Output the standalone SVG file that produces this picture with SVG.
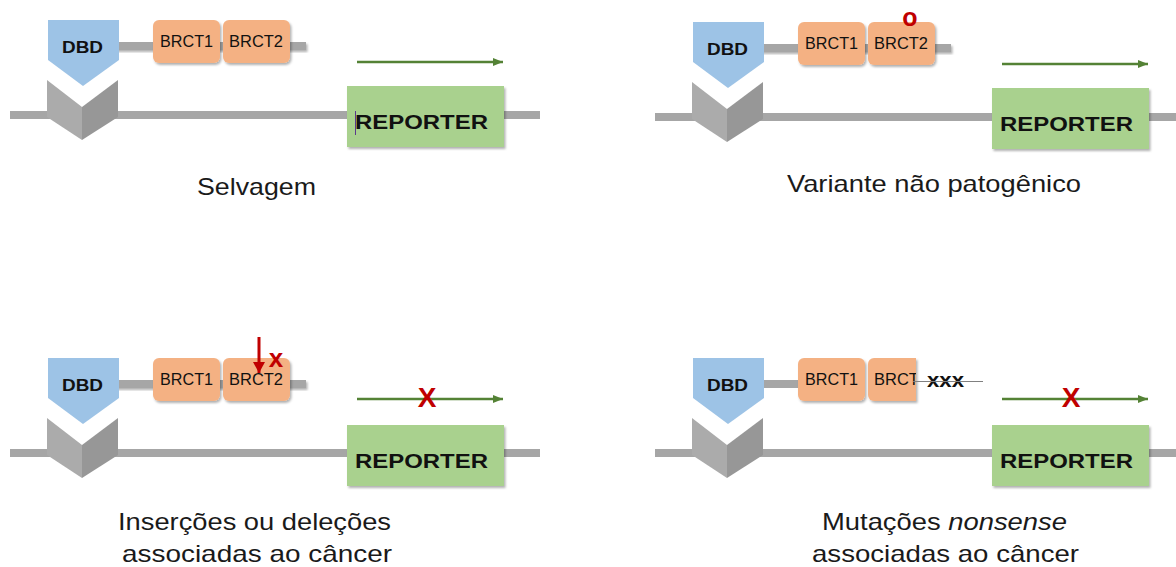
<svg xmlns="http://www.w3.org/2000/svg" width="1176" height="567" viewBox="0 0 1176 567">
<style>
.dna{stroke:#A6A6A6;stroke-width:8;fill:none}
.prot{fill:#A6A6A6}
.dbd{fill:#9DC3E6}
.chl{fill:#ABABAB}
.chr{fill:#979797}
.brct{fill:#F4B183}
.rep{fill:#A9D18E}
.lbl{font-family:"Liberation Sans",Arial,sans-serif;fill:#111}
.b{font-weight:bold}
.cap{font-family:"Liberation Sans",Arial,sans-serif;font-size:24px;fill:#1a1a1a}
.garrow{stroke:#548235;stroke-width:2.5;fill:none}
.red{fill:#C00000;font-family:"Liberation Sans",Arial,sans-serif;font-weight:bold}
</style>
<defs>
<filter id="sh" x="-10%" y="-10%" width="130%" height="140%">
<feDropShadow dx="1.5" dy="2" stdDeviation="1.2" flood-color="#000" flood-opacity="0.3"/>
</filter>
<marker id="ga" markerUnits="userSpaceOnUse" markerWidth="12" markerHeight="10" refX="10" refY="4" orient="auto">
<path d="M0,0 L10,4 L0,8 z" fill="#548235"/>
</marker>
<marker id="ra" markerUnits="userSpaceOnUse" markerWidth="14" markerHeight="14" refX="11" refY="6" orient="auto">
<path d="M0,0 L11,6 L0,12 z" fill="#C00000"/>
</marker>
<clipPath id="cut"><rect x="0" y="0" width="271" height="120"/></clipPath>
</defs>

<!-- Panel 1: Selvagem -->
<g id="panel-selvagem">
<line class="dna" x1="10" y1="115" x2="540" y2="115"/>
<rect class="prot" x="115" y="42" width="191" height="8" filter="url(#sh)"/>
<g id="p1-chevron">
<polygon class="chl" points="47,80 82,107 82,140 47,117"/>
<polygon class="chr" points="82,107 118,80 118,117 82,140"/>
</g>
<g id="p1-dbd">
<polygon class="dbd" points="48,20 119,20 119,60 83,86 48,60"/>
<text class="lbl b" x="62" y="53" font-size="16" textLength="41" lengthAdjust="spacingAndGlyphs">DBD</text>
</g>
<g id="p1-brct1">
<rect class="brct" x="153" y="20" width="67" height="43" rx="6" filter="url(#sh)"/>
<text class="lbl" x="160" y="47" font-size="16.5" textLength="53" lengthAdjust="spacingAndGlyphs">BRCT1</text>
</g>
<g id="p1-brct2">
<rect class="brct" x="223" y="20" width="67" height="43" rx="6" filter="url(#sh)"/>
<text class="lbl" x="229" y="47" font-size="16.5" textLength="54" lengthAdjust="spacingAndGlyphs">BRCT2</text>
</g>
<g id="p1-reporter">
<rect class="rep" x="347" y="86" width="157" height="61" filter="url(#sh)"/>
<text class="lbl b" x="355" y="129" font-size="21" textLength="133" lengthAdjust="spacingAndGlyphs">REPORTER</text>
<line x1="355.5" y1="111" x2="355.5" y2="135" stroke="#5B3A8C" stroke-width="1"/>
</g>
<text id="p1-caption" class="cap" x="197" y="195" textLength="119" lengthAdjust="spacingAndGlyphs">Selvagem</text>
</g>

<!-- Panel 2: Variante não patogênico -->
<g id="panel-variante" transform="translate(645,2)">
<line class="dna" x1="10" y1="115" x2="540" y2="115"/>
<rect class="prot" x="115" y="42" width="191" height="8" filter="url(#sh)"/>
<g id="p2-chevron">
<polygon class="chl" points="47,80 82,107 82,140 47,117"/>
<polygon class="chr" points="82,107 118,80 118,117 82,140"/>
</g>
<g id="p2-dbd">
<polygon class="dbd" points="48,20 119,20 119,60 83,86 48,60"/>
<text class="lbl b" x="62" y="53" font-size="16" textLength="41" lengthAdjust="spacingAndGlyphs">DBD</text>
</g>
<g id="p2-brct1">
<rect class="brct" x="153" y="20" width="67" height="43" rx="6" filter="url(#sh)"/>
<text class="lbl" x="160" y="47" font-size="16.5" textLength="53" lengthAdjust="spacingAndGlyphs">BRCT1</text>
</g>
<g id="p2-brct2">
<rect class="brct" x="223" y="20" width="67" height="43" rx="6" filter="url(#sh)"/>
<text class="lbl" x="229" y="47" font-size="16.5" textLength="54" lengthAdjust="spacingAndGlyphs">BRCT2</text>
<text class="red" x="265" y="24" font-size="25" text-anchor="middle">o</text>
</g>
<g id="p2-reporter">
<rect class="rep" x="347" y="86" width="157" height="61" filter="url(#sh)"/>
<text class="lbl b" x="355" y="129" font-size="21" textLength="133" lengthAdjust="spacingAndGlyphs">REPORTER</text>
</g>
<text id="p2-caption" class="cap" x="142" y="190" textLength="294" lengthAdjust="spacingAndGlyphs">Variante não patogênico</text>
</g>

<!-- Panel 3: Inserções ou deleções -->
<g id="panel-indel" transform="translate(0,338)">
<line class="dna" x1="10" y1="115" x2="540" y2="115"/>
<rect class="prot" x="115" y="42" width="191" height="8" filter="url(#sh)"/>
<g id="p3-chevron">
<polygon class="chl" points="47,80 82,107 82,140 47,117"/>
<polygon class="chr" points="82,107 118,80 118,117 82,140"/>
</g>
<g id="p3-dbd">
<polygon class="dbd" points="48,20 119,20 119,60 83,86 48,60"/>
<text class="lbl b" x="62" y="53" font-size="16" textLength="41" lengthAdjust="spacingAndGlyphs">DBD</text>
</g>
<g id="p3-brct1">
<rect class="brct" x="153" y="20" width="67" height="43" rx="6" filter="url(#sh)"/>
<text class="lbl" x="160" y="47" font-size="16.5" textLength="53" lengthAdjust="spacingAndGlyphs">BRCT1</text>
</g>
<g id="p3-brct2">
<rect class="brct" x="223" y="20" width="67" height="43" rx="6" filter="url(#sh)"/>
<text class="lbl" x="229" y="47" font-size="16.5" textLength="54" lengthAdjust="spacingAndGlyphs">BRCT2</text>
<line x1="259" y1="-1" x2="259" y2="35" stroke="#C00000" stroke-width="3" marker-end="url(#ra)"/>
<text class="red" x="276" y="29" font-size="26" text-anchor="middle">x</text>
</g>
<g id="p3-reporter">
<rect class="rep" x="347" y="87" width="157" height="61" filter="url(#sh)"/>
<text class="lbl b" x="355" y="130" font-size="21" textLength="133" lengthAdjust="spacingAndGlyphs">REPORTER</text>
</g>
<text id="p3-caption-1" class="cap" x="118" y="192" textLength="273" lengthAdjust="spacingAndGlyphs">Inserções ou deleções</text>
<text id="p3-caption-2" class="cap" x="122" y="224" textLength="270" lengthAdjust="spacingAndGlyphs">associadas ao câncer</text>
</g>

<!-- Panel 4: Mutações nonsense -->
<g id="panel-nonsense" transform="translate(645,338)">
<line class="dna" x1="10" y1="115" x2="540" y2="115"/>
<rect class="prot" x="115" y="42" width="41" height="8"/>
<g id="p4-chevron">
<polygon class="chl" points="47,80 82,107 82,140 47,117"/>
<polygon class="chr" points="82,107 118,80 118,117 82,140"/>
</g>
<g id="p4-dbd">
<polygon class="dbd" points="48,20 119,20 119,60 83,86 48,60"/>
<text class="lbl b" x="62" y="53" font-size="16" textLength="41" lengthAdjust="spacingAndGlyphs">DBD</text>
</g>
<g id="p4-brct1">
<rect class="brct" x="153" y="20" width="67" height="43" rx="6" filter="url(#sh)"/>
<text class="lbl" x="160" y="47" font-size="16.5" textLength="53" lengthAdjust="spacingAndGlyphs">BRCT1</text>
</g>
<g id="p4-brct2-truncated">
<path class="brct" d="M229,20 H271 V63 H229 A6,6 0 0 1 223,57 V26 A6,6 0 0 1 229,20 z" filter="url(#sh)"/>
<text class="lbl" x="229" y="47" font-size="16.5" textLength="54" lengthAdjust="spacingAndGlyphs" clip-path="url(#cut)">BRCT2</text>
<text class="lbl b" x="282" y="49" font-size="20" textLength="37" lengthAdjust="spacingAndGlyphs">xxx</text>
<line x1="268" y1="43.5" x2="338" y2="43.5" stroke="#808080" stroke-width="1"/>
</g>
<g id="p4-reporter">
<rect class="rep" x="347" y="87" width="157" height="61" filter="url(#sh)"/>
<text class="lbl b" x="355" y="130" font-size="21" textLength="133" lengthAdjust="spacingAndGlyphs">REPORTER</text>
</g>
<text id="p4-caption-1" class="cap" x="177" y="192" textLength="245" lengthAdjust="spacingAndGlyphs">Mutações <tspan font-style="italic">nonsense</tspan></text>
<text id="p4-caption-2" class="cap" x="167" y="224" textLength="267" lengthAdjust="spacingAndGlyphs">associadas ao câncer</text>
</g>

<!-- Connectors: transcription arrows -->
<g id="connectors">
<line class="garrow" x1="357" y1="62" x2="503" y2="62" marker-end="url(#ga)"/>
<line class="garrow" x1="1002" y1="64" x2="1148" y2="64" marker-end="url(#ga)"/>
<line class="garrow" x1="357" y1="399" x2="503" y2="399" marker-end="url(#ga)"/>
<line class="garrow" x1="1002" y1="399" x2="1148" y2="399" marker-end="url(#ga)"/>
<text class="red" x="427" y="407" font-size="28" text-anchor="middle">X</text>
<text class="red" x="1071" y="407" font-size="28" text-anchor="middle">X</text>
</g>
</svg>
